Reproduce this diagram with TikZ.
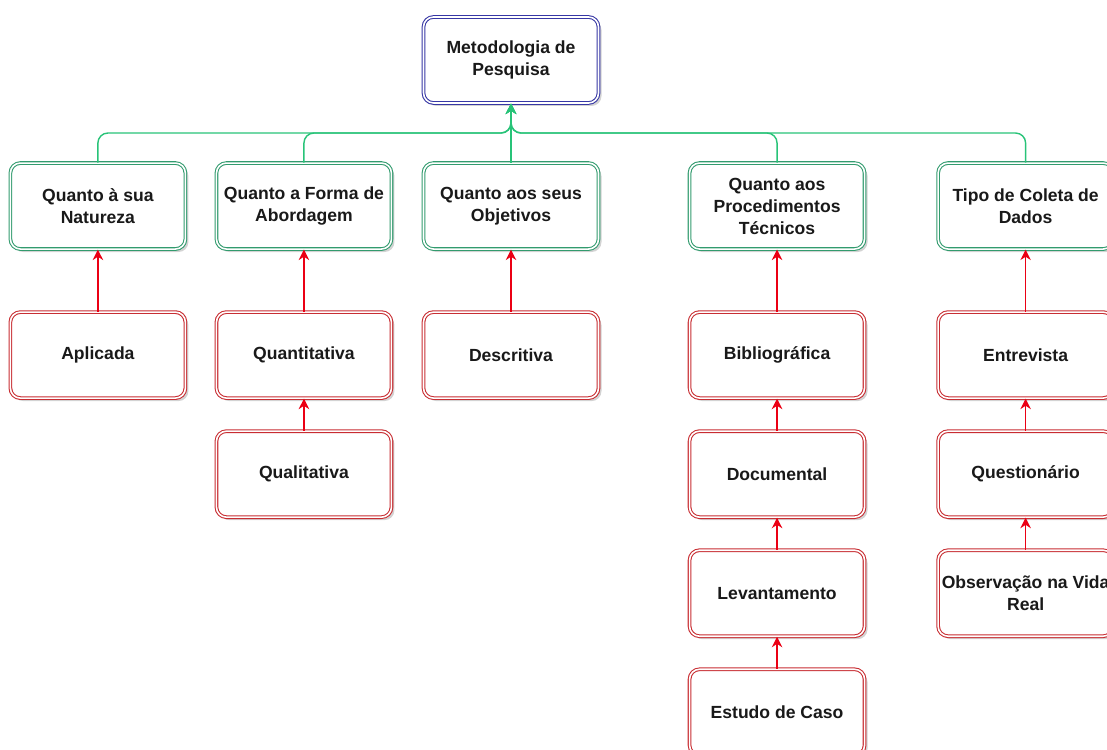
\documentclass[tikz,border=0pt]{standalone}
\usepackage{fontspec}
\setmainfont{Liberation Sans}
\usetikzlibrary{positioning,arrows.meta,shadows}
\definecolor{azul}{RGB}{55,55,165}
\definecolor{verde}{RGB}{50,155,110}
\definecolor{verdelinha}{RGB}{40,195,120}
\definecolor{vermelho}{RGB}{200,45,50}
\definecolor{seta}{RGB}{235,0,20}
\tikzset{
  caixa/.style={rectangle, rounded corners=0.2cm, minimum width=3.5cm, minimum height=1.72cm,
    inner sep=0pt, fill=white, line width=0.6pt, double=white, double distance=0.9pt,
    align=center, font=\bfseries\fontsize{10}{12.5}\selectfont, text=black!90,
    drop shadow={shadow xshift=0.06cm, shadow yshift=-0.06cm, opacity=0.35}},
  raiz/.style={caixa, draw=azul},
  grupo/.style={caixa, draw=verde},
  folha/.style={caixa, draw=vermelho},
  ligacao/.style={draw=verdelinha, line width=0.8pt, rounded corners=0.2cm, -{Stealth[length=6pt,width=6pt]}},
  subida/.style={draw=seta, line width=0.8pt, -{Stealth[length=6pt,width=6pt]}},
}

\begin{document}
\begin{tikzpicture}
        \useasboundingbox (0,0) rectangle (22.14,14.98);
        \node [raiz] (pesq) at (10.22,13.78) {Metodologia de\\Pesquisa};
        \coordinate [below=0.59cm of pesq] (barra);
        \node [grupo, below=1.18cm of pesq] (obj) {Quanto aos seus\\Objetivos};
        \node [grupo, left=0.62cm of obj] (abord) {Quanto a Forma de\\Abordagem};
        \node [grupo, left=0.6cm of abord] (nat) {Quanto à sua\\Natureza};
        \node [grupo, right=1.8cm of obj] (proc) {Quanto aos\\Procedimentos\\Técnicos};
        \node [grupo, right=1.45cm of proc] (coleta) {Tipo de Coleta de\\Dados};

        \node [folha, below=1.24cm of nat] (apl) {Aplicada};
        \node [folha, below=1.24cm of abord] (quant) {Quantitativa};
        \node [folha, below=0.64cm of quant] (qual) {Qualitativa};
        \node [folha, below=1.24cm of obj] (desc) {Descritiva};
        \node [folha, below=1.24cm of proc] (bib) {Bibliográfica};
        \node [folha, below=0.64cm of bib] (doc) {Documental};
        \node [folha, below=0.64cm of doc] (lev) {Levantamento};
        \node [folha, below=0.64cm of lev] (caso) {Estudo de Caso};
        \node [folha, below=1.24cm of coleta] (entr) {Entrevista};
        \node [folha, below=0.64cm of entr] (quest) {Questionário};
        \node [folha, below=0.64cm of quest] (obs) {Observação na Vida\\Real};

        \draw [ligacao] (nat.north) |- (barra) -- (pesq.south);
        \draw [ligacao] (abord.north) |- (barra) -- (pesq.south);
        \draw [ligacao] (obj.north) -- (pesq.south);
        \draw [ligacao] (proc.north) |- (barra) -- (pesq.south);
        \draw [ligacao] (coleta.north) |- (barra) -- (pesq.south);

        \draw [subida] (apl) -- (nat);
        \draw [subida] (quant) -- (abord);
        \draw [subida] (qual) -- (quant);
        \draw [subida] (desc) -- (obj);
        \draw [subida] (bib) -- (proc);
        \draw [subida] (doc) -- (bib);
        \draw [subida] (lev) -- (doc);
        \draw [subida] (caso) -- (lev);
        \draw [subida] (entr) -- (coleta);
        \draw [subida] (quest) -- (entr);
        \draw [subida] (obs) -- (quest);
\end{tikzpicture}
\end{document}
